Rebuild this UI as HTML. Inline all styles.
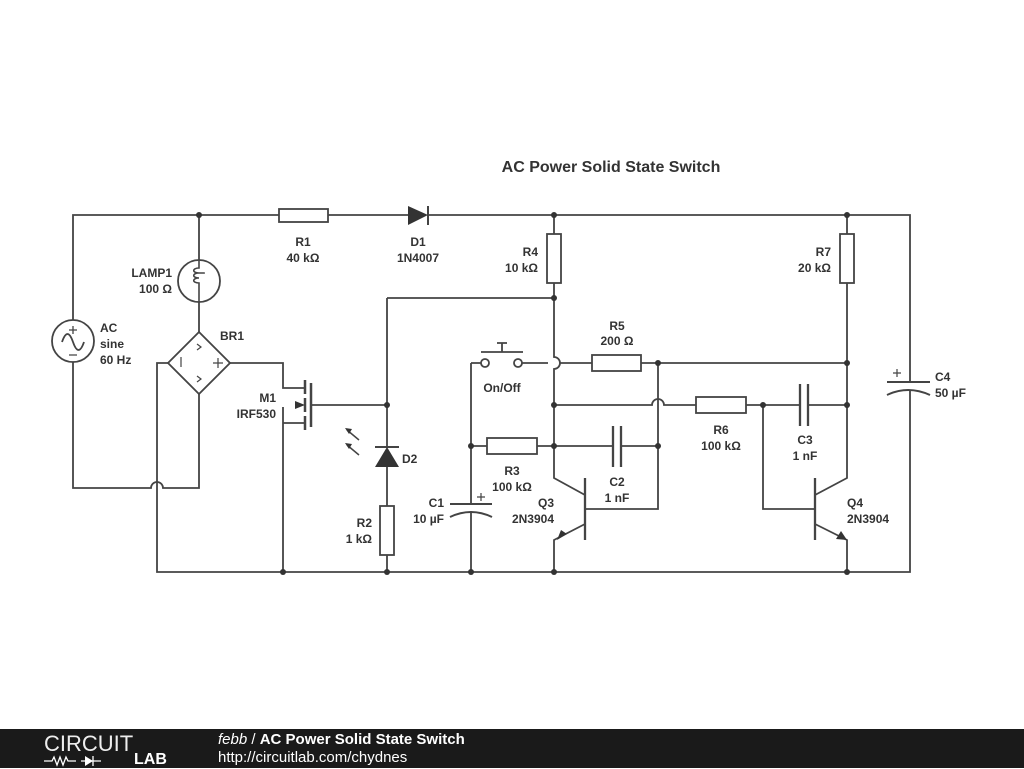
<!DOCTYPE html>
<html><head><meta charset="utf-8"><style>
body{margin:0;width:1024px;height:768px;background:#fff;overflow:hidden;font-family:"Liberation Sans",sans-serif}
svg text{font-family:"Liberation Sans",sans-serif;font-weight:bold;font-size:12px;fill:#333}
#ft{position:absolute;left:0;top:729px;width:1024px;height:39px;background:#1a1a1a;color:#fff}
</style></head><body>
<svg width="1024" height="729" style="position:absolute;left:0;top:0">
<g stroke="#444" stroke-width="1.8" fill="none">
<path d="M73 320V215H279M328 215H408M428 215H910V382M910 390V572H157V363H168"/>
<path d="M73 362V488H151a6 6 0 0 1 12 0H199V394"/>
<path d="M199 215V260M199 302V332"/>
<path d="M230 363H283V388H305M283 407V572M283 423H305M311 405H387"/>
<path d="M387 298H554V357a6 6 0 0 1 0 12V478L585 495M585 524L554 540V572"/>
<path d="M387 298V447M387 467V506M387 555V572"/>
<path d="M554 215V234M554 283V298"/>
<path d="M471 363H481M522 363H548M560 363H592M641 363H847"/>
<path d="M471 363V504M471 512V572"/>
<path d="M554 405H652a6 6 0 0 1 12 0H696M746 405H800M808 405H847"/>
<path d="M471 446H487M537 446H613M621 446H658M658 363V509H585"/>
<path d="M763 405V509H815M815 495L847 478V283M847 234V215M815 524L847 540V572"/>
<rect x="279" y="209" width="49" height="13"/>
<rect x="547" y="234" width="14" height="49"/>
<rect x="840" y="234" width="14" height="49"/>
<rect x="592" y="355" width="49" height="16"/>
<rect x="696" y="397" width="50" height="16"/>
<rect x="487" y="438" width="50" height="16"/>
<rect x="380" y="506" width="14" height="49"/>
<circle cx="73" cy="341" r="21"/>
<path d="M62 342q5.5-16 11 0t11 0"/>
<path d="M73 326v8M69 330h8M69 355h8" stroke-width="1.3"/>
<circle cx="199" cy="281" r="21"/>
<path d="M199 260v8c-7 0-7 5 0 5c7 0 7 0 0 0c-7 0-7 5 0 5c-7 0-7 5 0 5v19" stroke-width="1.6"/>
<path d="M199 332L230 363L199 394L168 363Z"/>
<path d="M181 357v10M213 363h10M218 358v10M197 344l4 3-4 3M197 376l4 3-4 3" stroke-width="1.2"/>
<path d="M305 380v14M305 398v14M305 416v14M311 383v44" stroke-width="2.5"/>
<path d="M585 478v62M815 478v62" stroke-width="2.3"/>
<path d="M613 426v41M621 426v41M800 384v42M808 384v42" stroke-width="2.3"/>
<path d="M375 447h24" stroke-width="2"/>
<path d="M428 206v19" stroke-width="2"/>
<path d="M450 504h42M887 382h43" stroke-width="2"/>
<path d="M450 517q21-10 42 0M887 395q21-10 43 0" stroke-width="2"/>
<path d="M477 497h8M481 493v8M893 373h8M897 369v8" stroke-width="1.2"/>
<circle cx="485" cy="363" r="4" fill="#fff"/><circle cx="518" cy="363" r="4" fill="#fff"/>
<path d="M481 352h42M502 343v9M497 343h10"/>
<path d="M347 430l12 10M347 445l12 10" stroke-width="1.5"/>
</g>
<g fill="#333">
<path d="M408 206L428 215L408 225Z"/>
<path d="M387 447L399 467H375Z"/>
<path d="M305 405l-10-4v8z"/>
<path d="M567 534l-10 6l4-10z"/>
<path d="M847 540l-11-1l5-8z"/>
<path d="M345 428l7 1l-3 5z M345 443l7 1l-3 5z"/>
<circle cx="199" cy="215" r="3"/><circle cx="554" cy="215" r="3"/><circle cx="847" cy="215" r="3"/>
<circle cx="554" cy="298" r="3"/><circle cx="387" cy="405" r="3"/><circle cx="658" cy="363" r="3"/>
<circle cx="847" cy="363" r="3"/><circle cx="554" cy="405" r="3"/><circle cx="763" cy="405" r="3"/>
<circle cx="847" cy="405" r="3"/><circle cx="471" cy="446" r="3"/><circle cx="554" cy="446" r="3"/>
<circle cx="658" cy="446" r="3"/><circle cx="283" cy="572" r="3"/><circle cx="387" cy="572" r="3"/>
<circle cx="471" cy="572" r="3"/><circle cx="554" cy="572" r="3"/><circle cx="847" cy="572" r="3"/>
</g>
<text x="611" y="172" text-anchor="middle" style="font-size:16px">AC Power Solid State Switch</text>
<text x="303" y="246" text-anchor="middle">R1</text><text x="303" y="262" text-anchor="middle">40 kΩ</text>
<text x="418" y="246" text-anchor="middle">D1</text><text x="418" y="262" text-anchor="middle">1N4007</text>
<text x="538" y="256" text-anchor="end">R4</text><text x="538" y="272" text-anchor="end">10 kΩ</text>
<text x="831" y="256" text-anchor="end">R7</text><text x="831" y="272" text-anchor="end">20 kΩ</text>
<text x="172" y="277" text-anchor="end">LAMP1</text><text x="172" y="293" text-anchor="end">100 Ω</text>
<text x="100" y="332">AC</text><text x="100" y="348">sine</text><text x="100" y="364">60 Hz</text>
<text x="220" y="340">BR1</text>
<text x="276" y="402" text-anchor="end">M1</text><text x="276" y="418" text-anchor="end">IRF530</text>
<text x="617" y="330" text-anchor="middle">R5</text><text x="617" y="345" text-anchor="middle">200 Ω</text>
<text x="502" y="392" text-anchor="middle">On/Off</text>
<text x="402" y="463">D2</text>
<text x="721" y="434" text-anchor="middle">R6</text><text x="721" y="450" text-anchor="middle">100 kΩ</text>
<text x="805" y="444" text-anchor="middle">C3</text><text x="805" y="460" text-anchor="middle">1 nF</text>
<text x="512" y="475" text-anchor="middle">R3</text><text x="512" y="491" text-anchor="middle">100 kΩ</text>
<text x="617" y="486" text-anchor="middle">C2</text><text x="617" y="502" text-anchor="middle">1 nF</text>
<text x="444" y="507" text-anchor="end">C1</text><text x="444" y="523" text-anchor="end">10 µF</text>
<text x="554" y="507" text-anchor="end">Q3</text><text x="554" y="523" text-anchor="end">2N3904</text>
<text x="847" y="507">Q4</text><text x="847" y="523">2N3904</text>
<text x="372" y="527" text-anchor="end">R2</text><text x="372" y="543" text-anchor="end">1 kΩ</text>
<text x="935" y="381">C4</text><text x="935" y="397">50 µF</text>
</svg>
<div id="ft">
<div style="position:absolute;left:44px;top:2px;font-size:22px;font-weight:normal;color:#eee">CIRCUIT</div>
<svg style="position:absolute;left:44px;top:26px" width="90" height="12"><path d="M0 6h8l2-4 3 8 3-8 3 8 3-8 2 4h8M37 6h20M49 1v10" stroke="#fff" stroke-width="1.3" fill="none"/><path d="M41 1l8 5-8 5z" fill="#fff"/></svg>
<div style="position:absolute;left:134px;top:22px;font-size:16px;font-weight:bold">LAB</div>
<div style="position:absolute;left:218px;top:2px;font-size:15px"><i>febb</i> / <b>AC Power Solid State Switch</b></div>
<div style="position:absolute;left:218px;top:20px;font-size:15px">http://circuitlab.com/chydnes</div>
</div>
</body></html>
